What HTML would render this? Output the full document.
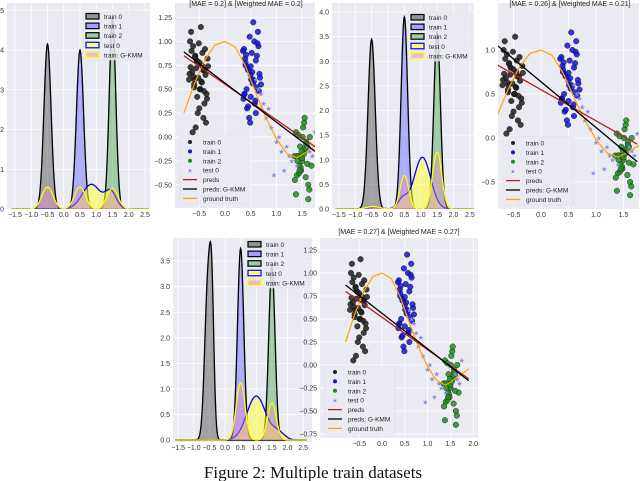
<!DOCTYPE html>
<html><head><meta charset="utf-8">
<style>
html,body{margin:0;padding:0;background:#fff;}
svg{display:block;font-family:"Liberation Sans",sans-serif;}
</style></head>
<body>
<svg id="fig" width="640" height="481" viewBox="0 0 640 481" xmlns="http://www.w3.org/2000/svg">
<text x="313" y="478" text-anchor="middle" font-family="Liberation Serif, serif" font-size="17" fill="#111">Figure 2: Multiple train datasets</text>
</svg>
<script>
// ---------- density data: [center, height, sd] components per series ----------
const densA_train0 = [[-0.5, 4.15, 0.11]];
const densA_train1 = [[0.5, 4.0, 0.11]];
const densA_train2 = [[1.5, 4.8, 0.1]];
const densA_test0  = [[0.85, 0.62, 0.28], [1.45, 0.42, 0.17]];
const densA_gkmm   = [[-0.5, 0.55, 0.17], [0.5, 0.55, 0.17], [1.5, 0.52, 0.17]];

const densB_train0 = [[-0.5, 3.45, 0.11]];
const densB_train1 = [[0.5, 3.9, 0.1]];
const densB_train2 = [[1.5, 3.6, 0.1]];
const densB_test0  = [[1.05, 1.05, 0.25], [0.45, 0.2, 0.15], [-0.4, 0.04, 0.2]];
const densB_gkmm   = [[-0.45, 0.05, 0.2], [0.5, 0.68, 0.13], [1.5, 1.15, 0.14]];

const densC_train0 = [[-0.55, 3.0, 0.1], [-0.42, 2.2, 0.07]];
const densC_train1 = [[0.5, 3.75, 0.1]];
const densC_train2 = [[1.5, 3.4, 0.1]];
const densC_test0  = [[1.0, 0.86, 0.3], [1.7, 0.15, 0.2]];
const densC_gkmm   = [[0.5, 1.12, 0.14], [1.5, 0.72, 0.14]];

// ---------- scatter data ----------
const train0X = [-0.7,-0.4,-0.55,-0.35,-0.6,-0.45,-0.65,-0.5,-0.38,-0.58,-0.48,-0.68,-0.42,-0.52,-0.62,-0.36,-0.56,-0.46,-0.66,-0.4,-0.5,-0.6,-0.44,-0.54,-0.64,-0.34,-0.57,-0.47,-0.67,-0.41,-0.51,-0.61,-0.37,-0.55,-0.45,-0.63,-0.39,-0.53,-0.59,-0.43,-0.49,-0.69,-0.33,-0.58,-0.48];
const train0Y = [0.6,0.7,0.8,0.4,0.55,0.75,0.9,0.3,0.65,0.85,0.5,1.0,0.2,0.62,0.95,0.45,0.72,0.58,1.1,0.35,0.78,0.52,0.88,0.42,0.68,0.82,0.1,1.15,0.73,0.48,0.98,0.63,0.15,0.8,0.57,0.05,0.92,0.25,0.6,0.7,0.5,0.66,0.74,0.84,0.5];
const train1X = [0.35,0.6,0.45,0.7,0.4,0.55,0.65,0.38,0.5,0.62,0.42,0.58,0.48,0.68,0.36,0.52,0.6,0.44,0.56,0.4,0.64,0.47,0.53,0.37,0.66,0.43,0.57,0.5,0.39,0.61,0.46,0.54,0.41,0.59,0.49,0.51,0.63,0.45,0.55,0.38,0.67,0.5];
const train1Y = [0.9,0.8,0.7,0.55,0.75,0.6,0.95,0.45,0.65,0.85,0.5,0.35,1.05,0.62,0.4,0.88,0.25,0.72,0.58,0.78,1.1,0.2,0.68,0.92,0.48,0.3,1.0,0.42,0.82,0.52,0.7,0.56,0.86,0.38,0.15,0.6,0.98,0.32,1.2,0.45,0.66,0.74];
const train2X = [1.35,1.6,1.45,1.65,1.4,1.55,1.5,1.38,1.62,1.48,1.58,1.42,1.52,1.68,1.36,1.56,1.46,1.6,1.44,1.54,1.4,1.64,1.5,1.38,1.58,1.47,1.53,1.43,1.57,1.49,1.62,1.41,1.55,1.45,1.51];
const train2Y = [-0.2,-0.1,-0.3,0.0,-0.4,-0.15,-0.25,0.05,-0.5,-0.35,-0.05,-0.2,0.1,-0.3,-0.45,-0.12,-0.1,-0.28,-0.38,0.15,-0.2,-0.55,-0.22,-0.6,-0.08,-0.32,-0.18,0.02,-0.42,-0.15,-0.65,-0.25,0.2,-0.35,0.0];
const test0X = [0.6,0.7,0.8,0.9,1.0,1.1,1.2,1.3,1.4,1.6,1.7,1.75,0.85,0.95,1.15,1.05,0.75,1.25,1.65,0.65];
const test0Y = [0.6,0.45,0.2,0.1,-0.05,-0.15,-0.1,-0.25,-0.3,-0.1,-0.2,0.05,0.3,-0.4,-0.35,0.0,0.35,-0.2,-0.15,0.5];
const truthX = [-0.8,-0.6,-0.4,-0.2,0,0.2,0.4,0.6,0.8,1.0,1.2,1.4,1.6,1.8,1.9];
const truthY = [0.25,0.55,0.8,0.96,1.0,0.94,0.74,0.46,0.2,-0.02,-0.17,-0.22,-0.15,-0.08,-0.04];
const predsA = [[-0.8,0.85],[1.75,-0.1]], gkmmA = [[-0.8,0.89],[1.75,-0.15]];
const predsB = [[-0.85,0.85],[1.75,-0.07]], gkmmB = [[-0.85,1.08],[1.75,-0.27]];
const predsC = [[-0.8,0.8],[1.9,-0.15]], gkmmC = [[-0.8,0.87],[1.9,-0.17]];
const titles = ["[MAE = 0.2] & [Weighted MAE = 0.2]","[MAE = 0.26] & [Weighted MAE = 0.21]","[MAE = 0.27] & [Weighted MAE = 0.27]"];
const densXTicks = [-1.5,-1.0,-0.5,0.0,0.5,1.0,1.5,2.0,2.5];

const NS="http://www.w3.org/2000/svg";
const svg=document.getElementById('fig');
function mk(tag,attrs,parent){const e=document.createElementNS(NS,tag);for(const k in attrs)e.setAttribute(k,attrs[k]);(parent||svg).appendChild(e);return e;}
let clipId=0;
function panel(name,box,x0,sx,y0,sy,xt,yt,fmtY){
  const g=mk('g',{});
  
  
  const [l,t,r,b]=box;
  const bg=mk('rect',{x:l,y:t,width:r-l,height:b-t,fill:'#eaeaf2'},g);
  
  
  const X=v=>x0+v*sx, Y=v=>y0-v*sy;
  xt.forEach(v=>{const px=X(v);if(px<l-1||px>r+1)return;
    mk('line',{x1:px,x2:px,y1:t,y2:b,stroke:'#fff','stroke-width':0.8},g);
    const tx=mk('text',{x:px,y:b+8,'font-size':7,'text-anchor':'middle',fill:'#333'},g);
    
    
    tx.textContent=v.toFixed(1).replace('-','−');});
  yt.forEach(v=>{const py=Y(v);if(py<t-1||py>b+1)return;
    mk('line',{x1:l,x2:r,y1:py,y2:py,stroke:'#fff','stroke-width':0.8},g);
    const tx=mk('text',{x:l-3,y:py+2.5,'font-size':7,'text-anchor':'end',fill:'#333'},g);
    
    
    tx.textContent=fmtY(v).replace('-','−');});
  const id='c'+(clipId++);
  const cp=mk('clipPath',{id:id},g);mk('rect',{x:l,y:t,width:r-l,height:b-t},cp);
  const inner=mk('g',{'clip-path':'url(#'+id+')'},g);
  return {g,inner,X,Y,box};
}
function kde(comps,x){let s=0;comps.forEach(c=>{s+=c[1]*Math.exp(-0.5*((x-c[0])/c[2])**2);});return s;}
function densPlot(p,series){
  series.forEach(s=>{
    let d='M'+p.X(-1.6)+','+p.Y(0);
    for(let x=-1.6;x<=2.61;x+=0.01){d+=' L'+p.X(x).toFixed(2)+','+p.Y(kde(s.c,x)).toFixed(2);}
    const fill=mk('path',{d:d+' L'+p.X(2.61)+','+p.Y(0)+' Z',fill:s.fill,stroke:'none'},p.inner);
    
    
    const line=mk('path',{d:d,fill:'none',stroke:s.stroke,'stroke-width':1.3},p.inner);
    
    
  });
}
function densLegend(p,x,y){
  const entries=[['train 0','rgba(90,90,90,0.6)','#000'],['train 1','rgba(110,110,255,0.6)','#000'],['train 2','rgba(110,180,110,0.6)','#000'],['test 0','rgba(255,255,80,0.8)','#00f'],['train: G-KMM','rgba(230,170,230,0.8)','#ff0']];
  const lg=mk('g',{},p.g);
  
  
  mk('rect',{x:x,y:y,width:64,height:49,fill:'rgba(234,234,242,0.85)',stroke:'#ddd','stroke-width':0.5,rx:1.5},lg);
  entries.forEach((e,i)=>{const yy=y+5+i*9.6;
    const it=mk('g',{},lg);
    
    
    mk('rect',{x:x+3,y:yy-2.5,width:13,height:5.5,fill:e[1],stroke:e[2],'stroke-width':1.2},it);
    const t=mk('text',{x:x+21,y:yy+3,'font-size':6.5,fill:'#222'},it);t.textContent=e[0];});
}
function scatterPlot(p,preds,gkmm,title,tx,ty){
  const tt=mk('text',{x:tx,y:ty,'font-size':7,'text-anchor':'middle',fill:'#222'},p.g);
  
  
  tt.textContent=title;
  const groups=[[train0X,train0Y,'rgba(30,30,30,0.85)','train0'],[train1X,train1Y,'rgba(20,20,220,0.85)','train1'],[train2X,train2Y,'rgba(30,140,30,0.85)','train2']];
  groups.forEach(gr=>{gr[0].forEach((xv,i)=>{
    const c=mk('circle',{cx:p.X(xv),cy:p.Y(gr[1][i]),r:2.8,fill:gr[2],stroke:'#111','stroke-width':0.4},p.inner);
    
    });});
  test0X.forEach((xv,i)=>{
    const s=mk('text',{x:p.X(xv),y:p.Y(test0Y[i])+2.5,'font-size':7,'text-anchor':'middle',fill:'#8888dd'},p.inner);
    
    
    s.textContent='★';});
  let d='';truthX.forEach((xv,i)=>{d+=(i?' L':'M')+p.X(xv)+','+p.Y(truthY[i]);});
  const gt=mk('path',{d:d,fill:'none',stroke:'#ffa500','stroke-width':1.2,'stroke-linejoin':'round'},p.inner);
  
  
  const pr=mk('line',{x1:p.X(preds[0][0]),y1:p.Y(preds[0][1]),x2:p.X(preds[1][0]),y2:p.Y(preds[1][1]),stroke:'#b22222','stroke-width':1.3},p.inner);
  
  
  const gk=mk('line',{x1:p.X(gkmm[0][0]),y1:p.Y(gkmm[0][1]),x2:p.X(gkmm[1][0]),y2:p.Y(gkmm[1][1]),stroke:'#000','stroke-width':1.3},p.inner);
  
  
  const lx=p.box[0]+5, ly=p.box[3]-72;
  const lg=mk('g',{},p.g);
  
  
  mk('rect',{x:lx,y:ly,width:70,height:68,fill:'rgba(234,234,242,0.85)',stroke:'#ddd','stroke-width':0.5,rx:1.5},lg);
  const ents=[['train 0','c','#222'],['train 1','c','#1414dc'],['train 2','c','#1e8c1e'],['test 0','s','#8888dd'],['preds','l','#b22222'],['preds: G-KMM','l','#000'],['ground truth','l','#ffa500']];
  ents.forEach((e,i)=>{const yy=ly+6+i*9.4;
    const it=mk('g',{},lg);
    
    
    if(e[1]==='c')mk('circle',{cx:lx+10,cy:yy,r:2,fill:e[2]},it);
    else if(e[1]==='s'){const s=mk('text',{x:lx+10,y:yy+2.5,'font-size':6,'text-anchor':'middle',fill:e[2]},it);s.textContent='★';}
    else mk('line',{x1:lx+3,x2:lx+17,y1:yy,y2:yy,stroke:e[2],'stroke-width':1.3},it);
    const t=mk('text',{x:lx+23,y:yy+2.5,'font-size':6.5,fill:'#222'},it);t.textContent=e[0];});
}
const f1=v=>v.toFixed(0), f2=v=>v.toFixed(2), fd1=v=>v.toFixed(1);
const denseSeries=(a,b,c,d,e)=>[
  {name:'train0',c:a,fill:'rgba(90,90,90,0.5)',stroke:'#000'},
  {name:'train1',c:b,fill:'rgba(110,110,255,0.5)',stroke:'#000'},
  {name:'train2',c:c,fill:'rgba(90,170,90,0.5)',stroke:'#000'},
  {name:'test0',c:d,fill:'rgba(255,255,60,0.55)',stroke:'#0000ff'},
  {name:'gkmm',c:e,fill:'rgba(220,140,200,0.45)',stroke:'#ffff00'}];

const p1=panel('density-plot-1',[7,3,150,209],63.75,32.5,209,39.75,densXTicks,[0,1,2,3,4,5],f1);
densPlot(p1,denseSeries(densA_train0,densA_train1,densA_train2,densA_test0,densA_gkmm));
densLegend(p1,83,11);

const p2=panel('scatter-plot-1',[175,3,315,208],225,51.4,137,95.6,[-0.5,0,0.5,1.0,1.5],[-0.5,-0.25,0,0.25,0.5,0.75,1.0,1.25],f2);
scatterPlot(p2,predsA,gkmmA,titles[0],246,6);

const p3=panel('density-plot-2',[332,3,474,209],388,32.75,209,49.25,densXTicks,[0,0.5,1,1.5,2,2.5,3,3.5,4],fd1);
densPlot(p3,denseSeries(densB_train0,densB_train1,densB_train2,densB_test0,densB_gkmm));
densLegend(p3,408,12);

const p4=panel('scatter-plot-2',[498,3,639,209],541,55,138,88,[-0.5,0,0.5,1.0,1.5],[-0.5,0,0.5,1.0],fd1);
scatterPlot(p4,predsB,gkmmB,titles[1],570,6);

const p5=panel('density-plot-3',[173,238,312,442],225,31.25,440,51.1,densXTicks,[0,0.5,1,1.5,2,2.5,3,3.5],fd1);
densPlot(p5,denseSeries(densC_train0,densC_train1,densC_train2,densC_test0,densC_gkmm));
densLegend(p5,245,239);

const p6=panel('scatter-plot-3',[320,238,478,438],382,45.6,365,92,[-0.5,0,0.5,1.0,1.5,2.0],[-0.75,-0.5,-0.25,0,0.25,0.5,0.75,1.0,1.25],f2);
scatterPlot(p6,predsC,gkmmC,titles[2],399,234);
</script>
</body></html>
